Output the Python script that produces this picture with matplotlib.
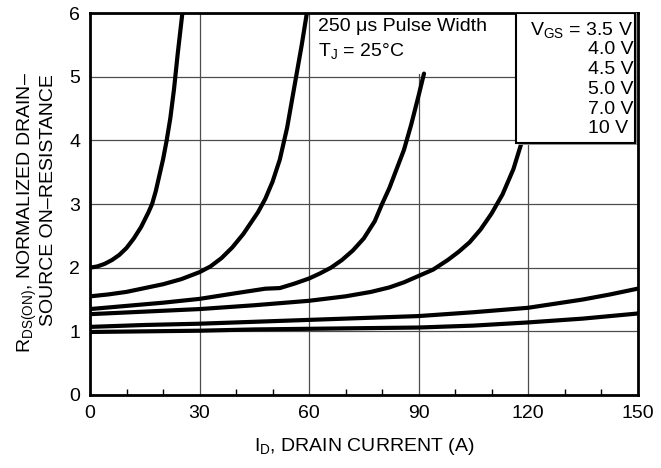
import numpy as np
import matplotlib
matplotlib.use("Agg")
import matplotlib.pyplot as plt
from matplotlib.patches import Rectangle

plt.rcParams['font.family'] = ['Liberation Sans', 'DejaVu Sans']
plt.rcParams['mathtext.fontset'] = 'custom'
plt.rcParams['mathtext.rm'] = 'Liberation Sans'
plt.rcParams['mathtext.it'] = 'Liberation Sans'

# curves, one per gate voltage
x_35 = [0, 2, 4, 6, 8, 10, 12, 14, 16, 17, 18, 19, 20, 21, 22, 23, 24, 25.3]
y_35 = [2.0, 2.02, 2.06, 2.12, 2.2, 2.31, 2.46, 2.64, 2.87, 3.0, 3.2, 3.45,
        3.7, 4.0, 4.35, 4.8, 5.35, 6.0]

x_40 = [0, 5, 10, 15, 20, 25, 30, 33, 36, 39, 42, 44, 46, 48, 50, 52, 54,
        56, 58, 59.4]
y_40 = [1.55, 1.58, 1.62, 1.68, 1.74, 1.82, 1.93, 2.02, 2.15, 2.32, 2.53,
        2.7, 2.87, 3.08, 3.35, 3.7, 4.2, 4.85, 5.5, 6.0]

x_45 = [0, 10, 20, 30, 40, 48, 52, 56, 60, 63, 66, 69, 72, 75, 78, 80, 82,
        84, 86, 88, 90, 91.5]
y_45 = [1.35, 1.4, 1.45, 1.51, 1.6, 1.67, 1.68, 1.75, 1.83, 1.91, 2.0, 2.12,
        2.27, 2.46, 2.73, 3.0, 3.25, 3.55, 3.85, 4.25, 4.7, 5.05]

x_50 = [0, 15, 30, 45, 60, 70, 77, 82, 86, 90, 94, 98, 101, 104, 107, 110,
        113, 116, 118.2]
y_50 = [1.27, 1.31, 1.35, 1.41, 1.48, 1.55, 1.62, 1.69, 1.77, 1.87, 1.97,
        2.12, 2.25, 2.4, 2.6, 2.85, 3.15, 3.55, 3.96]

x_70 = [0, 15, 30, 45, 60, 75, 90, 105, 120, 135, 142.5, 150]
y_70 = [1.07, 1.10, 1.12, 1.15, 1.18, 1.21, 1.24, 1.30, 1.37, 1.50, 1.58, 1.67]

x_10 = [0, 15, 30, 45, 60, 75, 90, 105, 120, 127.5, 135, 142.5, 150]
y_10 = [0.99, 1.0, 1.01, 1.03, 1.04, 1.05, 1.06, 1.09, 1.14, 1.17, 1.2, 1.24, 1.28]

legend_lines = [r"V$_\mathregular{GS}$ = 3.5 V", "4.0 V", "4.5 V", "5.0 V",
                "7.0 V", "10 V "]
xticks = [0, 30, 60, 90, 120, 150]
yticks = [0, 1, 2, 3, 4, 5, 6]

fig = plt.figure(figsize=(6.61, 4.68), dpi=100)
ax = fig.add_axes([0.1362, 0.156, 0.8283, 0.816])

for xs, ys in [(x_35, y_35), (x_40, y_40), (x_45, y_45),
               (x_50, y_50), (x_70, y_70), (x_10, y_10)]:
  ax.plot(xs, ys, color='black', lw=3.0, solid_capstyle='round',
          solid_joinstyle='round', zorder=2)

ax.set_xlim(0, 150)
ax.set_ylim(0, 6)
ax.set_xticks(xticks)
ax.set_yticks(yticks)
ax.set_xticks([10, 20, 40, 50, 70, 80, 100, 110, 130, 140], minor=True)
ax.tick_params(axis='both', which='major', length=0, labelsize=14, pad=7)
ax.tick_params(axis='x', which='minor', direction='in', length=4, width=1)
ax.grid(True, which='major', color='0.3', lw=0.9)
ax.set_axisbelow(True)
for s in ax.spines.values():
  s.set_linewidth(2)

# white patch behind the conditions text
ax.add_patch(Rectangle((60.5, 5.05), 56, 0.93, facecolor='white',
                       edgecolor='none', zorder=1.5))
ax.text(62.5, 5.72, "250 μs Pulse Width", fontsize=14, va='baseline')
ax.text(62.5, 5.33, r"T$_\mathregular{J}$ = 25°C", fontsize=14, va='baseline')

# legend box with a light shadow
ax.add_patch(Rectangle((117.4, 3.93), 32.5, 2.07, facecolor='0.6',
                       edgecolor='none', zorder=2.9, clip_on=False))
ax.add_patch(Rectangle((116.8, 3.96), 32.4, 2.04, facecolor='white',
                       edgecolor='black', lw=1.5, zorder=3))
for i, lab in enumerate(legend_lines):
  ax.text(148.9, 5.66 - i * 0.31, lab, fontsize=14, va='baseline',
          ha='right', zorder=4)

fig.text(0.042, 0.545, r"R$_\mathregular{DS(ON)}$, NORMALIZED DRAIN–",
         rotation=90, fontsize=14, ha='center', va='center')
fig.text(0.073, 0.572, "SOURCE ON–RESISTANCE",
         rotation=90, fontsize=14, ha='center', va='center')
fig.text(0.551, 0.045, r"I$_\mathregular{D}$, DRAIN CURRENT (A)",
         fontsize=14, ha='center', va='center')

fig.savefig("out.png", dpi=100)
